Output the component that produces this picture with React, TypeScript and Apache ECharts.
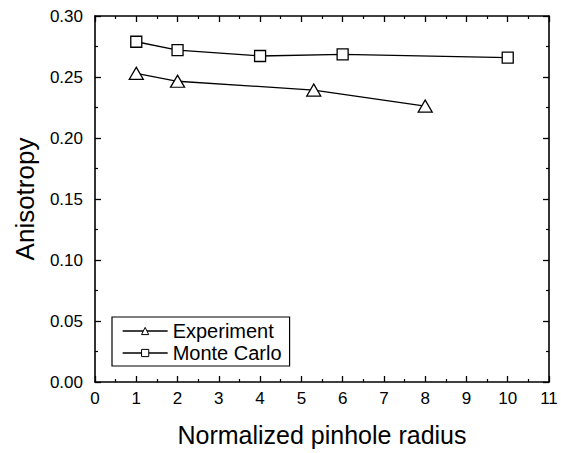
import React, { useEffect, useRef } from "react";
import * as echarts from "echarts";

const expX = [1, 2, 5.3, 8];
const expY = [0.253, 0.2465, 0.2393, 0.2262];
const mcX = [1, 2, 4, 6, 10];
const mcY = [0.2789, 0.2721, 0.2672, 0.2686, 0.2658];
const xTitle = "Normalized pinhole radius";
const yTitle = "Anisotropy";
const seriesNames = ["Experiment", "Monte Carlo"];

const FONT = "Liberation Sans, Arial, sans-serif";

function axisCommon() {
  return {
    type: "value",
    axisLine: { show: true, onZero: false, lineStyle: { color: "#000", width: 1.6 } },
    axisTick: { show: true, inside: true, length: 6, lineStyle: { color: "#000", width: 1.3 } },
    minorTick: { show: true, splitNumber: 2, length: 3, lineStyle: { color: "#000", width: 1.2 } },
    splitLine: { show: false },
    minorSplitLine: { show: false },
  };
}

export default function App() {
  const ref = useRef<HTMLDivElement>(null);
  useEffect(() => {
    if (!ref.current) return;
    const chart = echarts.init(ref.current, undefined, { renderer: "svg" });
    chart.setOption({
      animation: false,
      backgroundColor: "#fff",
      textStyle: { fontFamily: FONT },
      grid: { left: 95, right: 12, top: 16, bottom: 71 },
      legend: {
        orient: "vertical",
        left: 112,
        top: 317,
        data: seriesNames,
        itemWidth: 45,
        itemHeight: 9,
        itemGap: 2,
        padding: [4, 8, 3, 10],
        borderColor: "#000",
        borderWidth: 1.2,
        itemStyle: { color: "#fff", borderColor: "#000", borderWidth: 1 },
        lineStyle: { color: "#000", width: 1.3 },
        textStyle: { fontSize: 20, color: "#000", fontFamily: FONT },
      },
      xAxis: [
        {
          ...axisCommon(),
          min: 0,
          max: 11,
          interval: 1,
          position: "bottom",
          name: xTitle,
          nameLocation: "middle",
          nameGap: 40,
          nameTextStyle: { fontSize: 25, color: "#000", fontFamily: FONT },
          axisLabel: { fontSize: 17, color: "#000", margin: 8, fontFamily: FONT },
        },
        { ...axisCommon(), min: 0, max: 11, interval: 1, position: "top", axisLabel: { show: false } },
      ],
      yAxis: [
        {
          ...axisCommon(),
          min: 0,
          max: 0.3,
          interval: 0.05,
          position: "left",
          name: yTitle,
          nameLocation: "middle",
          nameGap: 57,
          nameTextStyle: { fontSize: 26, color: "#000", fontFamily: FONT },
          axisLabel: { fontSize: 17, color: "#000", margin: 12, fontFamily: FONT, formatter: (v: number) => v.toFixed(2) },
        },
        { ...axisCommon(), min: 0, max: 0.3, interval: 0.05, position: "right", axisLabel: { show: false } },
      ],
      series: [
        {
          name: seriesNames[0],
          type: "line",
          data: expX.map((x, i) => [x, expY[i]]),
          symbol: "triangle",
          symbolSize: [14, 12],
          lineStyle: { color: "#000", width: 1.3 },
          itemStyle: { color: "#fff", borderColor: "#000", borderWidth: 1.3 },
        },
        {
          name: seriesNames[1],
          type: "line",
          data: mcX.map((x, i) => [x, mcY[i]]),
          symbol: "rect",
          symbolSize: 11,
          lineStyle: { color: "#000", width: 1.3 },
          itemStyle: { color: "#fff", borderColor: "#000", borderWidth: 1.3 },
        },
      ],
    });
    return () => chart.dispose();
  }, []);
  return <div ref={ref} style={{ position: "absolute", left: 0, top: 0, width: 561, height: 453 }} />;
}
